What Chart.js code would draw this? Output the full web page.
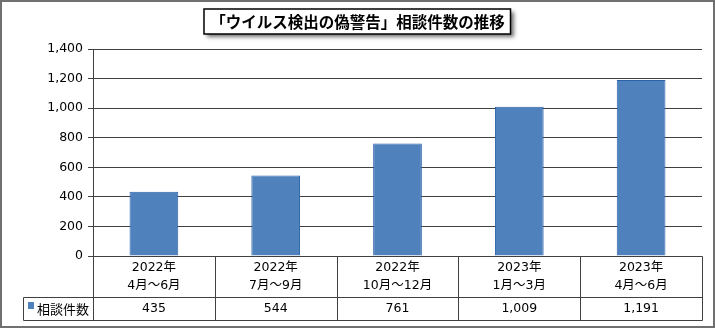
<!DOCTYPE html>
<html>
<head>
<meta charset="utf-8">
<script src="https://cdn.jsdelivr.net/npm/chart.js@4"></script>
<style>
  body { margin: 0; background: #fff; }
</style>
</head>
<body>
<canvas id="chart" width="715" height="328"></canvas>
<script>
// data
const chartTitle = "「ウイルス検出の偽警告」相談件数の推移";
const seriesName = "相談件数";
const yearLabels = ["2022年", "2022年", "2022年", "2023年", "2023年"];
const periodLabels = ["4月～6月", "7月～9月", "10月～12月", "1月～3月", "4月～6月"];
const counts = [435, 544, 761, 1009, 1191];
const yMax = 1400;
const yStep = 200;

const FONT = "'DejaVu Sans', 'Noto Sans CJK JP', sans-serif";
const LINE = "#404040";
const BAR = "#4F81BD";

// draws the white background, outer frame and the boxed title
const framePlugin = {
  id: "frame",
  beforeDraw(chart) {
    const ctx = chart.ctx;
    ctx.save();
    ctx.fillStyle = "#fff";
    ctx.fillRect(0, 0, chart.width, chart.height);
    ctx.strokeStyle = "#707070";
    ctx.lineWidth = 2;
    ctx.strokeRect(1, 1, chart.width - 2, chart.height - 2);

    ctx.font = "bold 15.5px 'Noto Sans CJK JP', sans-serif";
    const tw = ctx.measureText(chartTitle).width;
    const bw = tw + 12, bh = 25;
    const bx = Math.round(chart.width / 2 - bw / 2), by = 9;
    ctx.shadowColor = "rgba(0,0,0,0.55)";
    ctx.shadowBlur = 4;
    ctx.shadowOffsetX = 3;
    ctx.shadowOffsetY = 3;
    ctx.fillStyle = "#fff";
    ctx.fillRect(bx, by, bw, bh);
    ctx.shadowColor = "transparent";
    ctx.strokeStyle = "#000";
    ctx.lineWidth = 1.5;
    ctx.strokeRect(bx, by, bw, bh);
    ctx.fillStyle = "#000";
    ctx.textAlign = "center";
    ctx.textBaseline = "middle";
    ctx.fillText(chartTitle, chart.width / 2, by + bh / 2 + 1);
    ctx.restore();
  }
};

// draws the data table under the plot, aligned to the x scale
const tablePlugin = {
  id: "dataTable",
  afterDraw(chart) {
    const { ctx, chartArea: a, scales: { x } } = chart;
    const n = counts.length;
    const cw = (a.right - a.left) / n;
    const top = a.bottom, mid = a.bottom + 41, bottom = a.bottom + 64;
    const legendLeft = 23;

    ctx.save();
    ctx.strokeStyle = LINE;
    ctx.lineWidth = 1;
    const line = (x1, y1, x2, y2) => {
      ctx.beginPath();
      ctx.moveTo(Math.round(x1) + 0.5, Math.round(y1) + 0.5);
      ctx.lineTo(Math.round(x2) + 0.5, Math.round(y2) + 0.5);
      ctx.stroke();
    };
    line(a.left, top, a.right, top);
    line(legendLeft, mid, a.right, mid);
    line(legendLeft, bottom, a.right, bottom);
    line(legendLeft, mid, legendLeft, bottom);
    for (let i = 0; i <= n; i++) {
      const px = a.left + cw * i;
      line(px, top, px, bottom);
    }

    ctx.fillStyle = "#000";
    ctx.font = "12.5px " + FONT;
    ctx.textAlign = "center";
    ctx.textBaseline = "middle";
    for (let i = 0; i < n; i++) {
      const cx = x.getPixelForValue(i);
      ctx.fillText(yearLabels[i], cx, top + 12);
      ctx.fillText(periodLabels[i], cx, top + 30);
      ctx.fillText(counts[i].toLocaleString("en-US"), cx, mid + 12);
    }

    ctx.fillStyle = BAR;
    ctx.fillRect(legendLeft + 5, mid + 5, 6, 7);
    ctx.fillStyle = "#000";
    ctx.textAlign = "left";
    ctx.font = "13px 'Noto Sans CJK JP', sans-serif";
    ctx.fillText(seriesName, legendLeft + 14, mid + 12);
    ctx.restore();
  }
};

new Chart(document.getElementById("chart"), {
  type: "bar",
  data: {
    labels: periodLabels,
    datasets: [{
      label: seriesName,
      data: counts,
      backgroundColor: BAR,
      borderColor: "#2B62A8",
      borderWidth: 1,
      categoryPercentage: 1,
      barPercentage: 0.4
    }]
  },
  options: {
    responsive: false,
    animation: false,
    layout: { padding: { left: 0, top: 49, right: 13, bottom: 72 } },
    plugins: {
      legend: { display: false },
      tooltip: { enabled: false },
      title: { display: false }
    },
    scales: {
      x: { display: false },
      y: {
        min: 0,
        max: yMax,
        ticks: {
          stepSize: yStep,
          color: "#000",
          padding: 5,
          font: { family: FONT, size: 12.5 },
          callback: (v) => v.toLocaleString("en-US")
        },
        grid: { color: LINE, tickColor: LINE, tickLength: 5 },
        border: { color: LINE },
        afterFit(scale) { scale.width = 93; }
      }
    }
  },
  plugins: [framePlugin, tablePlugin]
});
</script>
</body>
</html>
